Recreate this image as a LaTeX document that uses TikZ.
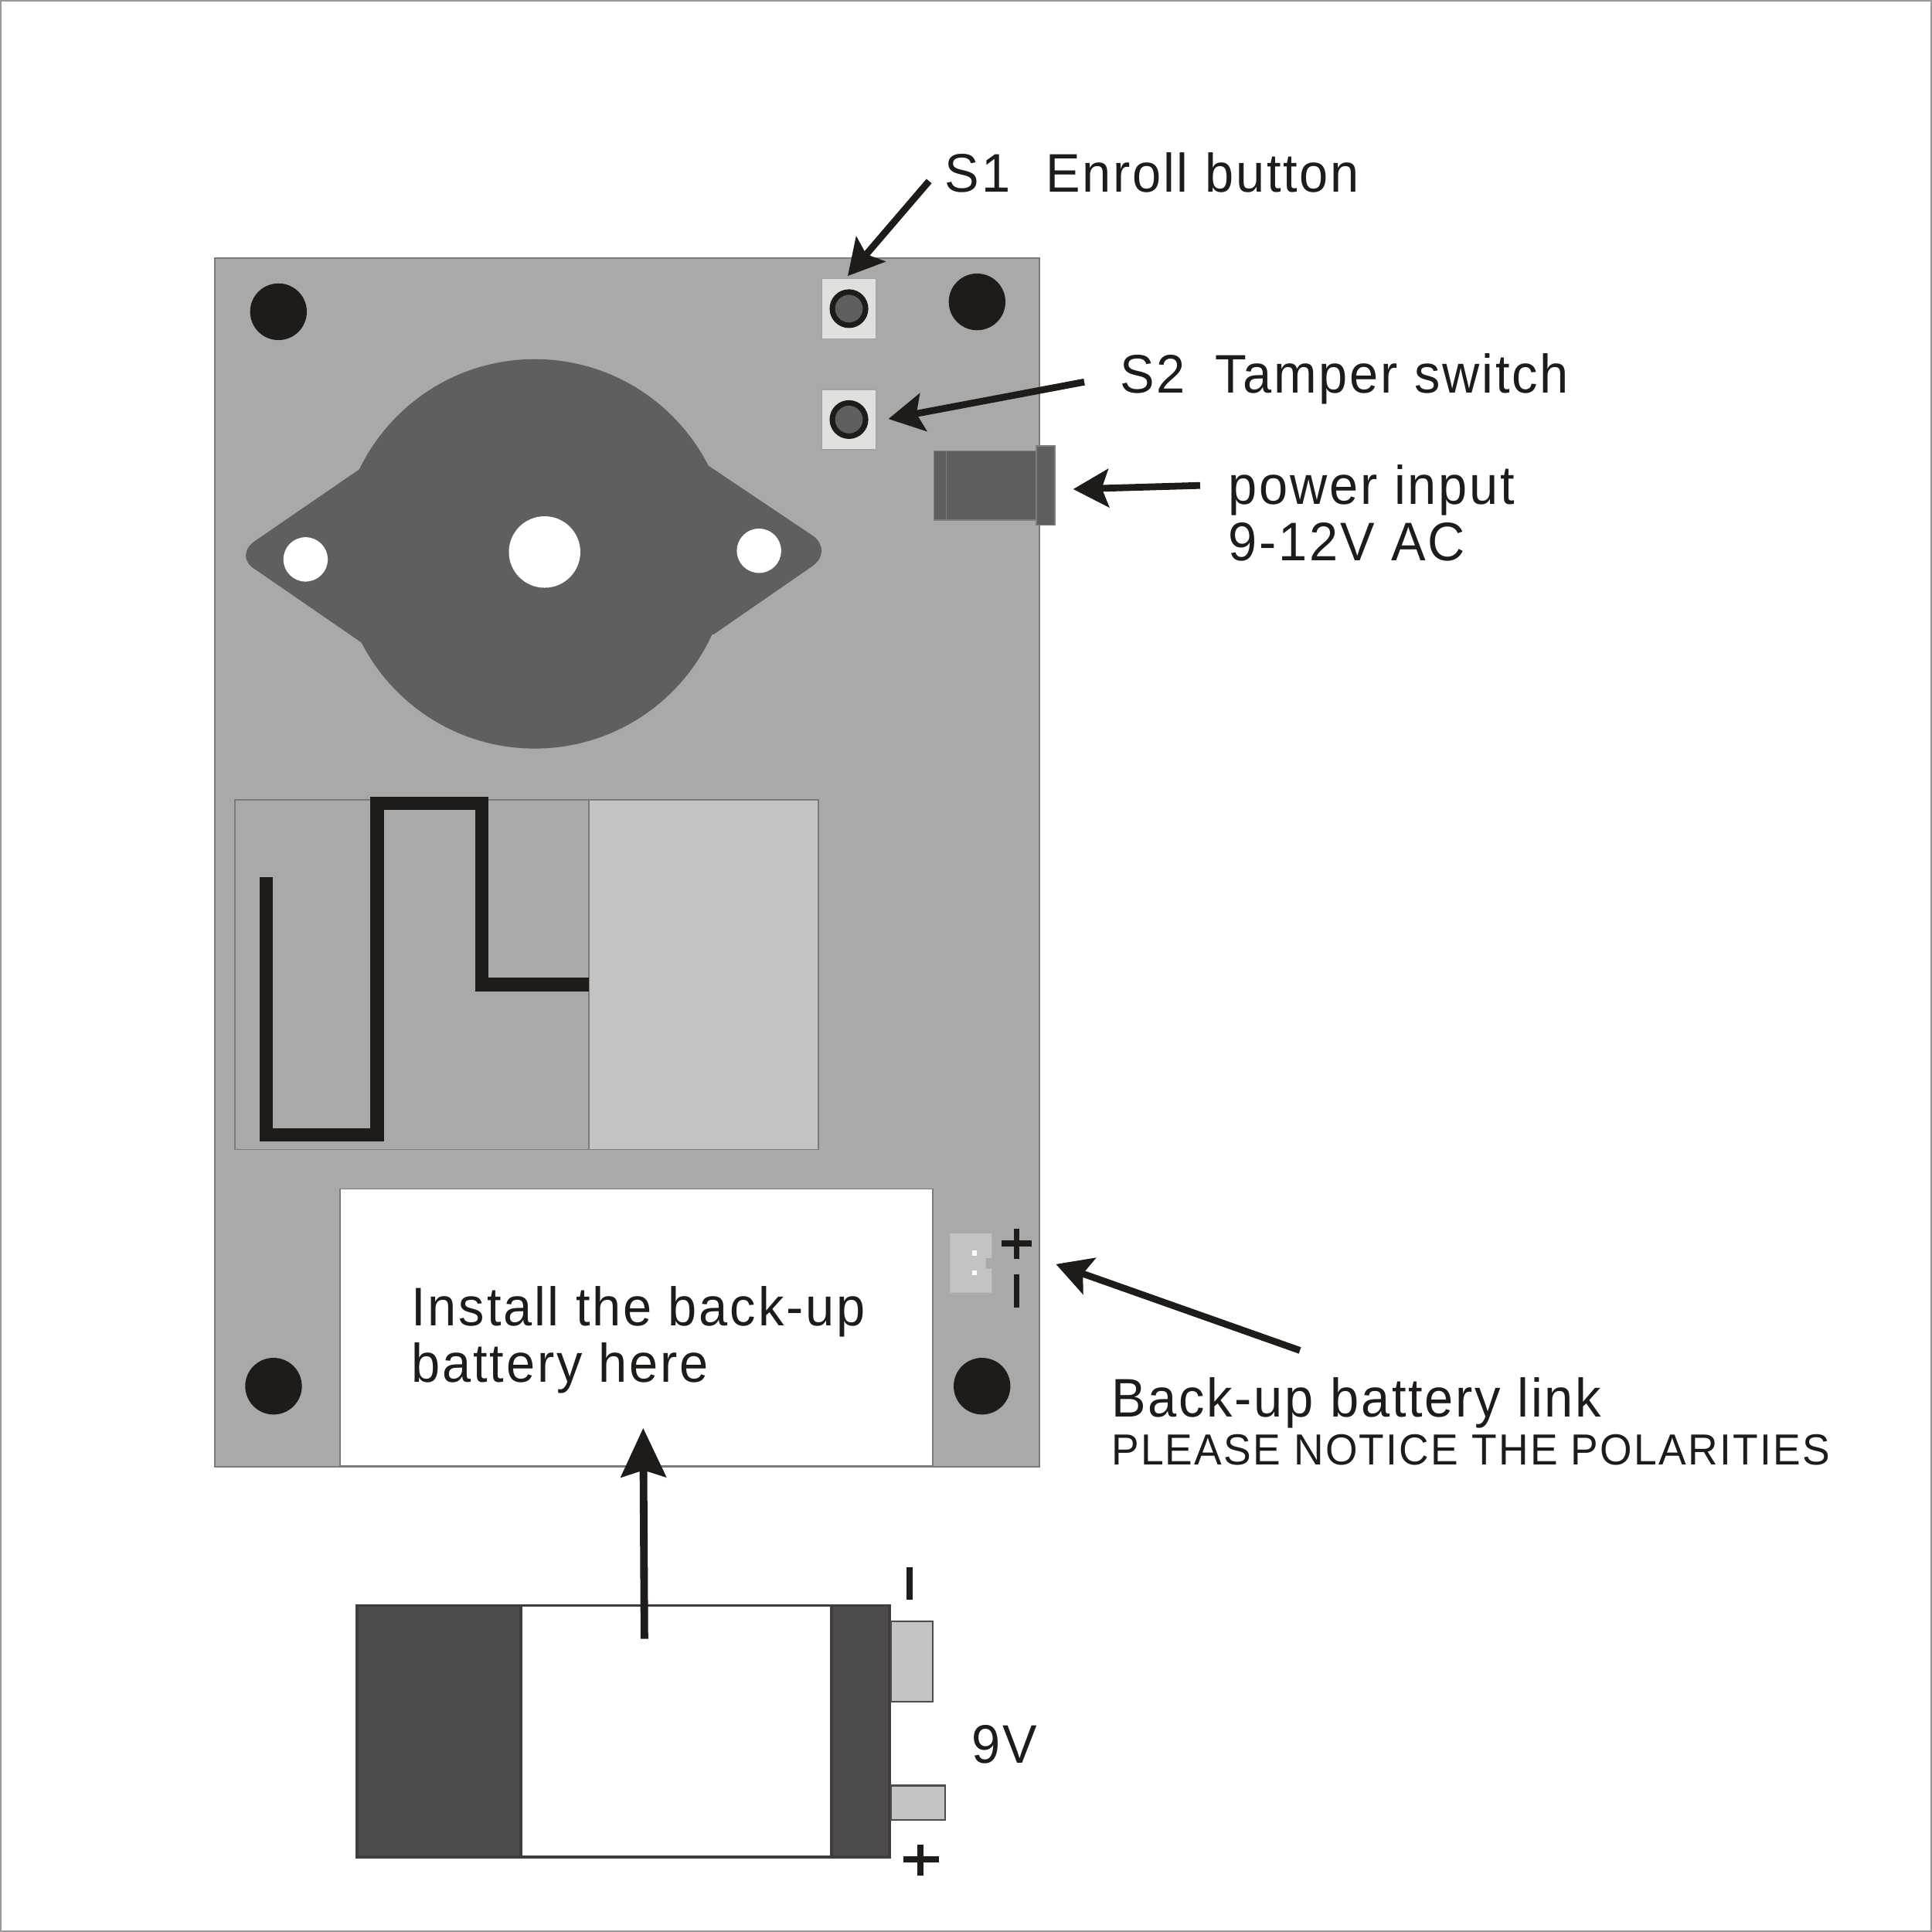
\documentclass[tikz,border=0pt]{standalone}
\usepackage{fontspec}
\setmainfont[LetterSpace=4,FakeStretch=0.95]{Liberation Sans}
\usetikzlibrary{arrows.meta}
\definecolor{ink}{HTML}{1E1B19}
\definecolor{boardgray}{HTML}{A9A9A9}
\definecolor{edgegray}{HTML}{7A7A7A}
\definecolor{buzzergray}{HTML}{5F5F5F}
\definecolor{lightgray2}{HTML}{C3C3C3}
\definecolor{switchgray}{HTML}{E0E0DE}
\definecolor{batdark}{HTML}{4E4B4B}
\tikzset{
  label text/.style={anchor=base west,inner sep=0pt,outer sep=0pt,text=ink,font=\fontsize{20}{24}\selectfont},
  small text/.style={label text,font=\fontsize{16}{20}\selectfont},
  pointer/.style={draw=ink,line width=2.5pt,-{Stealth[length=13pt,width=14pt,inset=2.5pt]}},
  bigpointer/.style={draw=ink,line width=2.8pt,-{Stealth[length=18pt,width=16.5pt,inset=2.5pt]}},
  hole/.style={fill=ink},
  whitehole/.style={fill=white},
  swbox/.style={fill=switchgray,draw=edgegray!70,line width=.4pt},
  swbtn/.style={fill=buzzergray,draw=ink,line width=2pt},
  jack/.style={fill=buzzergray,draw=buzzergray!80,line width=.4pt},
  polmark/.style={draw=ink,line width=2.2pt},
  batbody/.style={fill=batdark,draw=ink!85,line width=1.1pt},
  contact/.style={fill=lightgray2,draw=batdark,line width=.7pt},
  trace/.style={draw=ink,line width=5pt,miter limit=10}
}
\begin{document}
\begin{tikzpicture}[x=0.015944cm,y=-0.015944cm]
\useasboundingbox (0,0) rectangle (1568,1568);
\fill[white] (0,0) rectangle (1568,1568);
\draw[draw=gray!80,line width=.8pt] (0.5,0.5) rectangle (1567.5,1567.5);
% board
\draw[fill=boardgray,draw=edgegray,line width=.5pt] (174.5,209.5) rectangle (843.5,1190.5);
\foreach \x/\y in {226/253,793/245,222/1125,797/1125}
  \fill[hole] (\x,\y) circle[radius=23];
% switches
\draw[swbox] (667,226) rectangle (711,275);
\draw[swbtn] (689,250.5) circle[radius=13.5];
\draw[swbox] (667,316) rectangle (711,365);
\draw[swbtn] (689,340.5) circle[radius=13.5];
% jack
\draw[jack] (758,366) rectangle (768,422);
\draw[jack] (768,366) rectangle (841,422);
\draw[jack] (841,362) rectangle (856,426);
% buzzer
\fill[buzzergray] (434,449.5) circle[radius=158];
\fill[buzzergray] (291.5,381) -- (575,378) -- (660,435) .. controls (669,442) and (669,452) .. (660,459)
  -- (579,515) -- (297,524) -- (207,462) .. controls (197,456) and (197,446) .. (207,439) -- cycle;
\fill[whitehole] (248,454) circle[radius=18];
\fill[whitehole] (442,448) circle[radius=29];
\fill[whitehole] (616,447) circle[radius=18];
% relay
\draw[draw=edgegray,line width=.5pt] (190.5,649) rectangle (478,933);
\draw[fill=lightgray2,draw=edgegray,line width=.5pt] (478,649) rectangle (664,933);
\draw[trace] (216,712) -- (216,921) -- (306,921) -- (306,652) -- (391,652) -- (391,799) -- (478,799);
% battery bay
\draw[fill=white,draw=edgegray,line width=.5pt] (276,965) rectangle (757,1190);
\node[label text] (install) at (334,1076) {Install the back-up};
\node[label text] (here) at (334,1122) {battery here};
% connector
\fill[lightgray2] (771,1001) -- (805,1001) -- (805,1021) -- (800,1021) -- (800,1030) -- (805,1030) -- (805,1049) -- (771,1049) -- cycle;
\fill[white] (789,1015) rectangle (793,1019);
\fill[white] (789,1031) rectangle (793,1035);
\draw[polmark] (813,1009) -- (837,1009) (825,997) -- (825,1022);
\draw[polmark] (825,1034) -- (825,1061);
% battery
\draw[batbody] (290,1303) rectangle (722,1507);
\draw[fill=white,draw=ink!85,line width=1.1pt] (423,1303) rectangle (675,1507);
\draw[contact] (723,1316) rectangle (757,1381);
\draw[contact] (723,1449) rectangle (767,1477);
\draw[polmark] (738,1272) -- (738,1298);
\draw[polmark] (733,1509) -- (762,1509) (747,1497) -- (747,1522);
\node[label text] (nine) at (789,1431) {9V};
% labels
\node[label text] (s1) at (767,156) {S1\hspace{.65em}Enroll button};
\node[label text] (s2) at (909,319) {S2\hspace{.55em}Tamper switch};
\node[label text] (pw) at (997,409) {power input};
\node[label text] (ac) at (997,455) {9-12V AC};
\node[label text] (bl) at (902,1150) {Back-up battery link};
\node[small text] (pn) at (902,1189) {PLEASE NOTICE THE POLARITIES};
% pointers
\coordinate (s1a) at (754,147); \coordinate (s1b) at (688,224);
\coordinate (s2a) at (880,310); \coordinate (s2b) at (721,340);
\coordinate (pa) at (974,394); \coordinate (pb) at (871,397);
\coordinate (ba) at (1055,1096); \coordinate (bb) at (857,1026);
\coordinate (ua) at (523,1330); \coordinate (ub) at (522,1159);
\draw[pointer] (s1a) -- (s1b);
\draw[pointer] (s2a) -- (s2b);
\draw[pointer] (pa) -- (pb);
\draw[pointer] (ba) -- (bb);
\draw[bigpointer] (ua) -- (ub);
\end{tikzpicture}
\end{document}
